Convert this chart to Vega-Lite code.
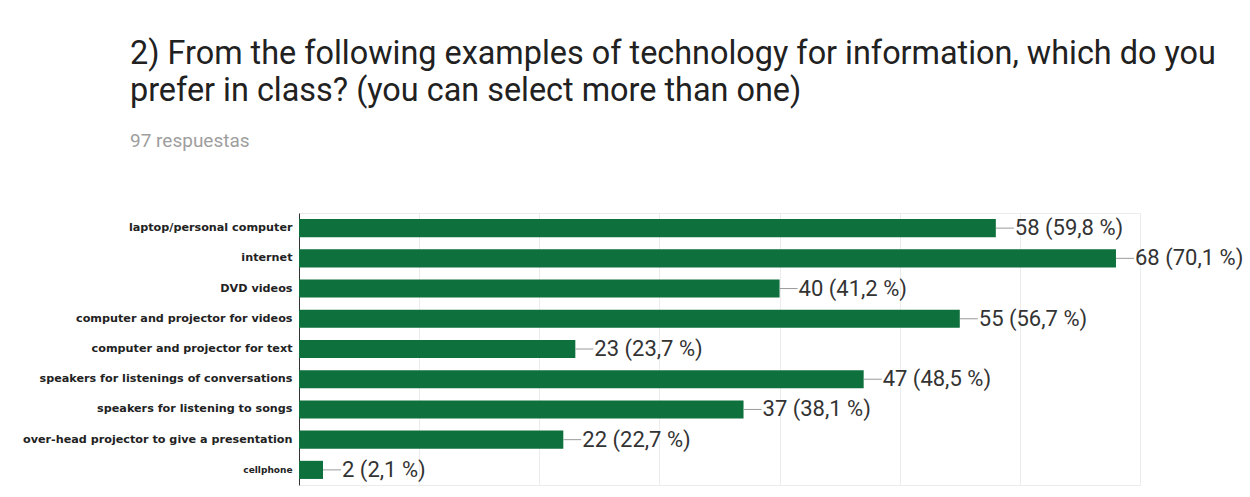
{
  "$schema": "https://vega.github.io/schema/vega-lite/v6.json",
  "width": 841,
  "height": 272,
  "autosize": "none",
  "padding": {"left": 299, "top": 213, "right": 110, "bottom": 12},
  "background": "white",
  "title": {
    "text": ["2) From the following examples of technology for information, which do you", "prefer in class? (you can select more than one)"],
    "subtitle": "97 respuestas",
    "anchor": "start",
    "frame": "group",
    "dx": -169,
    "font": "Roboto",
    "fontSize": 32.4,
    "fontWeight": "normal",
    "color": "#212121",
    "lineHeight": 37,
    "subtitleFont": "Roboto",
    "subtitleFontSize": 19,
    "subtitleColor": "#9e9e9e",
    "subtitlePadding": 25,
    "offset": 62
  },
  "config": {
    "view": {"stroke": "#ececec", "strokeWidth": 1}
  },
  "data": {
    "values": [
      {"item": "laptop/personal computer", "count": 58, "label": "58 (59,8 %)"},
      {"item": "internet", "count": 68, "label": "68 (70,1 %)"},
      {"item": "DVD videos", "count": 40, "label": "40 (41,2 %)"},
      {"item": "computer and projector for videos", "count": 55, "label": "55 (56,7 %)"},
      {"item": "computer and projector for text", "count": 23, "label": "23 (23,7 %)"},
      {"item": "speakers for listenings of conversations", "count": 47, "label": "47 (48,5 %)"},
      {"item": "speakers for listening to songs", "count": 37, "label": "37 (38,1 %)"},
      {"item": "over-head projector to give a presentation", "count": 22, "label": "22 (22,7 %)"},
      {"item": "cellphone", "count": 2, "label": "2 (2,1 %)"}
    ]
  },
  "encoding": {
    "y": {
      "field": "item",
      "type": "nominal",
      "sort": null,
      "scale": {"paddingInner": 0.4, "paddingOuter": 0.2},
      "axis": {
        "title": null,
        "ticks": false,
        "domainColor": "#333333",
        "domainWidth": 1,
        "labelFont": "DejaVu Sans",
        "labelFontWeight": "bold",
        "labelFontSize": {"condition": {"test": "datum.value === 'cellphone'", "value": 9}, "value": 11.2},
        "labelColor": "#222222",
        "labelPadding": 7,
        "labelLimit": 400
      }
    }
  },
  "layer": [
    {
      "mark": {"type": "bar", "color": "#0e703c"},
      "encoding": {
        "x": {
          "field": "count",
          "type": "quantitative",
          "scale": {"domain": [0, 70], "nice": false},
          "axis": {
            "title": null,
            "labels": false,
            "ticks": false,
            "domain": false,
            "values": [10, 20, 30, 40, 50, 60, 70],
            "gridColor": "#ececec",
            "gridWidth": 1
          }
        }
      }
    },
    {
      "mark": {"type": "rule", "x2Offset": 18, "color": "#9a9a9a", "strokeWidth": 1},
      "encoding": {
        "x": {"field": "count", "type": "quantitative"},
        "x2": {"field": "count"}
      }
    },
    {
      "mark": {"type": "text", "align": "left", "baseline": "middle", "dx": 19, "font": "Roboto", "fontSize": 22, "color": "#333333"},
      "encoding": {
        "x": {"field": "count", "type": "quantitative"},
        "text": {"field": "label"}
      }
    }
  ]
}
